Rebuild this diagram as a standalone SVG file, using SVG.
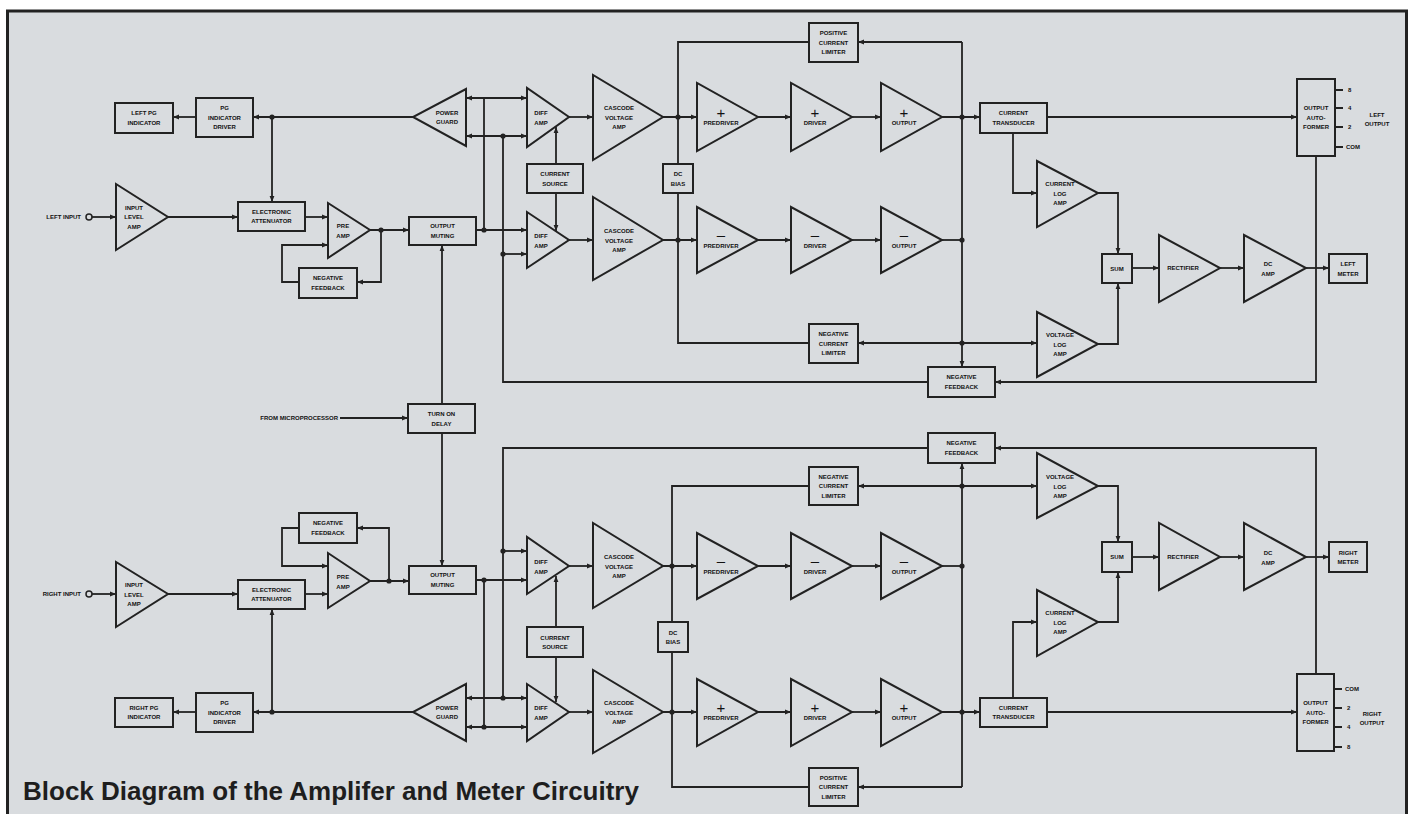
<svg xmlns="http://www.w3.org/2000/svg" width="1412" height="814" viewBox="0 0 1412 814">
<defs>
<style>
.ln{fill:none;stroke:#222;stroke-width:1.8}
.bx{fill:#d9dcdf;stroke:#222;stroke-width:2}
.t{font-family:"Liberation Sans",Arial,sans-serif;font-size:6px;font-weight:bold;fill:#111;text-anchor:middle}
.s{font-family:"Liberation Sans",Arial,sans-serif;font-size:15px;fill:#111;text-anchor:middle}
.d{fill:#222}
.title{font-family:"Liberation Sans",Arial,sans-serif;font-size:26px;font-weight:bold;fill:#1e1e1e}
</style>
<marker id="ar" viewBox="0 0 10 10" refX="10" refY="5" markerWidth="6" markerHeight="6" markerUnits="userSpaceOnUse" orient="auto-start-reverse"><path d="M0,1 L10,5 L0,9 z" fill="#222"/></marker>
</defs>
<rect x="0" y="0" width="1412" height="814" fill="#ffffff"/>
<rect x="7.5" y="11" width="1399" height="812" fill="#d9dcdf" stroke="#222" stroke-width="3"/>

<g id="connectors">
<!-- LEFT channel -->
<circle cx="89" cy="217" r="3" fill="none" stroke="#222" stroke-width="1.5"/>
<path class="ln" d="M92,217 H116" marker-end="url(#ar)"/>
<path class="ln" d="M168,217 H238" marker-end="url(#ar)"/>
<path class="ln" d="M305,217 H328" marker-end="url(#ar)"/>
<path class="ln" d="M370,230 H409" marker-end="url(#ar)"/>
<path class="ln" d="M381,230 V282 H357" marker-end="url(#ar)"/>
<path class="ln" d="M299,282 H282 V245 H328" marker-end="url(#ar)"/>
<path class="ln" d="M413,117 H253" marker-end="url(#ar)"/>
<path class="ln" d="M196,117 H173" marker-end="url(#ar)"/>
<path class="ln" d="M272,117 V202" marker-end="url(#ar)"/>
<path class="ln" d="M466,98 H527" marker-start="url(#ar)" marker-end="url(#ar)"/>
<path class="ln" d="M466,136 H527" marker-start="url(#ar)" marker-end="url(#ar)"/>
<path class="ln" d="M476,230 H527" marker-end="url(#ar)"/>
<path class="ln" d="M484,230 V98"/>
<path class="ln" d="M928,382 H503 V136"/>
<path class="ln" d="M503,254 H527" marker-end="url(#ar)"/>
<path class="ln" d="M556,164 V127" marker-end="url(#ar)"/>
<path class="ln" d="M556,193 V231" marker-end="url(#ar)"/>
<path class="ln" d="M569,117 H593" marker-end="url(#ar)"/>
<path class="ln" d="M569,240 H593" marker-end="url(#ar)"/>
<path class="ln" d="M663,117 H697" marker-end="url(#ar)"/>
<path class="ln" d="M663,240 H697" marker-end="url(#ar)"/>
<path class="ln" d="M809,42 H678 V343 H809"/>
<path class="ln" d="M758,117 H791" marker-end="url(#ar)"/>
<path class="ln" d="M852,117 H881" marker-end="url(#ar)"/>
<path class="ln" d="M758,240 H791" marker-end="url(#ar)"/>
<path class="ln" d="M852,240 H881" marker-end="url(#ar)"/>
<path class="ln" d="M942,117 H980" marker-end="url(#ar)"/>
<path class="ln" d="M942,240 H962"/>
<path class="ln" d="M962,42 V367" marker-end="url(#ar)"/>
<path class="ln" d="M962,42 H858" marker-end="url(#ar)"/>
<path class="ln" d="M962,343 H858" marker-end="url(#ar)"/>
<path class="ln" d="M962,343 H1037" marker-end="url(#ar)"/>
<path class="ln" d="M1047,117 H1297" marker-end="url(#ar)"/>
<path class="ln" d="M1013,133 V193 H1037" marker-end="url(#ar)"/>
<path class="ln" d="M1098,193 H1118 V254" marker-end="url(#ar)"/>
<path class="ln" d="M1098,344 H1118 V283" marker-end="url(#ar)"/>
<path class="ln" d="M1132,268 H1159" marker-end="url(#ar)"/>
<path class="ln" d="M1220,268 H1244" marker-end="url(#ar)"/>
<path class="ln" d="M1306,268 H1329" marker-end="url(#ar)"/>
<path class="ln" d="M1316,156 V382 H995" marker-end="url(#ar)"/>
<path class="ln" d="M1335,90 H1343 M1335,108 H1343 M1335,127 H1343 M1335,147 H1343"/>
<!-- turn on delay -->
<path class="ln" d="M340,418 H408" marker-end="url(#ar)"/>
<path class="ln" d="M442,404 V245" marker-end="url(#ar)"/>
<path class="ln" d="M442,433 V566" marker-end="url(#ar)"/>
<!-- RIGHT channel -->
<circle cx="89" cy="594" r="3" fill="none" stroke="#222" stroke-width="1.5"/>
<path class="ln" d="M92,594 H116" marker-end="url(#ar)"/>
<path class="ln" d="M168,594 H238" marker-end="url(#ar)"/>
<path class="ln" d="M305,594 H328" marker-end="url(#ar)"/>
<path class="ln" d="M370,581 H409" marker-end="url(#ar)"/>
<path class="ln" d="M389,581 V528 H357" marker-end="url(#ar)"/>
<path class="ln" d="M299,528 H282 V566 H328" marker-end="url(#ar)"/>
<path class="ln" d="M413,712 H253" marker-end="url(#ar)"/>
<path class="ln" d="M196,712 H173" marker-end="url(#ar)"/>
<path class="ln" d="M272,712 V609" marker-end="url(#ar)"/>
<path class="ln" d="M466,698 H527" marker-start="url(#ar)" marker-end="url(#ar)"/>
<path class="ln" d="M466,727 H527" marker-start="url(#ar)" marker-end="url(#ar)"/>
<path class="ln" d="M476,580 H527" marker-end="url(#ar)"/>
<path class="ln" d="M484,580 V727"/>
<path class="ln" d="M928,448 H503 V698"/>
<path class="ln" d="M503,551 H527" marker-end="url(#ar)"/>
<path class="ln" d="M556,627 V576" marker-end="url(#ar)"/>
<path class="ln" d="M556,657 V702" marker-end="url(#ar)"/>
<path class="ln" d="M569,566 H593" marker-end="url(#ar)"/>
<path class="ln" d="M569,712 H593" marker-end="url(#ar)"/>
<path class="ln" d="M663,566 H697" marker-end="url(#ar)"/>
<path class="ln" d="M663,712 H697" marker-end="url(#ar)"/>
<path class="ln" d="M809,486 H672 V787 H809"/>
<path class="ln" d="M758,566 H791" marker-end="url(#ar)"/>
<path class="ln" d="M852,566 H881" marker-end="url(#ar)"/>
<path class="ln" d="M758,712 H791" marker-end="url(#ar)"/>
<path class="ln" d="M852,712 H881" marker-end="url(#ar)"/>
<path class="ln" d="M942,566 H962"/>
<path class="ln" d="M942,712 H980" marker-end="url(#ar)"/>
<path class="ln" d="M962,787 V463" marker-end="url(#ar)"/>
<path class="ln" d="M962,787 H858" marker-end="url(#ar)"/>
<path class="ln" d="M962,486 H858" marker-end="url(#ar)"/>
<path class="ln" d="M962,486 H1037" marker-end="url(#ar)"/>
<path class="ln" d="M1047,712 H1297" marker-end="url(#ar)"/>
<path class="ln" d="M1013,698 V622 H1037" marker-end="url(#ar)"/>
<path class="ln" d="M1098,622 H1118 V572" marker-end="url(#ar)"/>
<path class="ln" d="M1098,486 H1118 V542" marker-end="url(#ar)"/>
<path class="ln" d="M1132,557 H1159" marker-end="url(#ar)"/>
<path class="ln" d="M1220,557 H1244" marker-end="url(#ar)"/>
<path class="ln" d="M1306,557 H1329" marker-end="url(#ar)"/>
<path class="ln" d="M1316,674 V448 H995" marker-end="url(#ar)"/>
<path class="ln" d="M1334,689 H1342 M1334,708 H1342 M1334,727 H1342 M1334,747 H1342"/>
<!-- junction dots -->
<circle class="d" cx="272" cy="117" r="2.6"/>
<circle class="d" cx="381" cy="230" r="2.6"/>
<circle class="d" cx="484" cy="230" r="2.6"/>
<circle class="d" cx="503" cy="136" r="2.6"/>
<circle class="d" cx="503" cy="254" r="2.6"/>
<circle class="d" cx="678" cy="117" r="2.6"/>
<circle class="d" cx="678" cy="240" r="2.6"/>
<circle class="d" cx="962" cy="117" r="2.6"/>
<circle class="d" cx="962" cy="240" r="2.6"/>
<circle class="d" cx="962" cy="343" r="2.6"/>
<circle class="d" cx="272" cy="712" r="2.6"/>
<circle class="d" cx="389" cy="581" r="2.6"/>
<circle class="d" cx="484" cy="580" r="2.6"/>
<circle class="d" cx="484" cy="727" r="2.6"/>
<circle class="d" cx="503" cy="551" r="2.6"/>
<circle class="d" cx="503" cy="698" r="2.6"/>
<circle class="d" cx="672" cy="566" r="2.6"/>
<circle class="d" cx="672" cy="712" r="2.6"/>
<circle class="d" cx="962" cy="566" r="2.6"/>
<circle class="d" cx="962" cy="712" r="2.6"/>
<circle class="d" cx="962" cy="486" r="2.6"/>
</g>

<!-- LEFT CHANNEL NODES -->
<g id="left-input-label"><text class="t" x="81" y="219" style="text-anchor:end">LEFT INPUT</text></g>
<g id="left-pg-indicator"><rect class="bx" x="115" y="103" width="58" height="30"/><text class="t" x="144" y="115">LEFT PG</text><text class="t" x="144" y="124.5">INDICATOR</text></g>
<g id="left-pg-driver"><rect class="bx" x="196" y="98" width="57" height="39"/><text class="t" x="224.5" y="110">PG</text><text class="t" x="224.5" y="119.5">INDICATOR</text><text class="t" x="224.5" y="129">DRIVER</text></g>
<g id="left-power-guard"><polygon class="bx" points="466,89 466,146 413,117"/><text class="t" x="447" y="114.5">POWER</text><text class="t" x="447" y="124">GUARD</text></g>
<g id="left-input-amp"><polygon class="bx" points="116,184 116,250 168,217"/><text class="t" x="134" y="209.5">INPUT</text><text class="t" x="134" y="219">LEVEL</text><text class="t" x="134" y="228.5">AMP</text></g>
<g id="left-attenuator"><rect class="bx" x="238" y="202" width="67" height="29"/><text class="t" x="271.5" y="213.5">ELECTRONIC</text><text class="t" x="271.5" y="223">ATTENUATOR</text></g>
<g id="left-preamp"><polygon class="bx" points="328,203 328,258 370,230"/><text class="t" x="343" y="228">PRE</text><text class="t" x="343" y="237.5">AMP</text></g>
<g id="left-pre-feedback"><rect class="bx" x="299" y="268" width="58" height="30"/><text class="t" x="328" y="280">NEGATIVE</text><text class="t" x="328" y="289.5">FEEDBACK</text></g>
<g id="left-muting"><rect class="bx" x="409" y="217" width="67" height="28"/><text class="t" x="442.5" y="228">OUTPUT</text><text class="t" x="442.5" y="237.5">MUTING</text></g>
<g id="left-diff-1"><polygon class="bx" points="527,88 527,147 569,117"/><text class="t" x="541" y="115">DIFF</text><text class="t" x="541" y="124.5">AMP</text></g>
<g id="left-diff-2"><polygon class="bx" points="527,212 527,268 569,240"/><text class="t" x="541" y="238">DIFF</text><text class="t" x="541" y="247.5">AMP</text></g>
<g id="left-cascode-1"><polygon class="bx" points="593,75 593,160 663,117"/><text class="t" x="619" y="110">CASCODE</text><text class="t" x="619" y="119.5">VOLTAGE</text><text class="t" x="619" y="129">AMP</text></g>
<g id="left-cascode-2"><polygon class="bx" points="593,197 593,280 663,240"/><text class="t" x="619" y="233">CASCODE</text><text class="t" x="619" y="242.5">VOLTAGE</text><text class="t" x="619" y="252">AMP</text></g>
<g id="left-current-source"><rect class="bx" x="527" y="164" width="56" height="29"/><text class="t" x="555" y="176">CURRENT</text><text class="t" x="555" y="185.5">SOURCE</text></g>
<g id="left-dc-bias"><rect class="bx" x="663" y="164" width="30" height="29"/><text class="t" x="678" y="176">DC</text><text class="t" x="678" y="185.5">BIAS</text></g>
<g id="left-predriver-pos"><polygon class="bx" points="697,83 697,151 758,117"/><text class="s" x="721" y="117.5">+</text><text class="t" x="721" y="124.5">PREDRIVER</text></g>
<g id="left-driver-pos"><polygon class="bx" points="791,83 791,151 852,117"/><text class="s" x="815" y="117.5">+</text><text class="t" x="815" y="124.5">DRIVER</text></g>
<g id="left-output-pos"><polygon class="bx" points="881,83 881,151 942,117"/><text class="s" x="904" y="117.5">+</text><text class="t" x="904" y="124.5">OUTPUT</text></g>
<g id="left-predriver-neg"><polygon class="bx" points="697,207 697,273 758,240"/><text class="s" x="721" y="240">–</text><text class="t" x="721" y="247.5">PREDRIVER</text></g>
<g id="left-driver-neg"><polygon class="bx" points="791,207 791,273 852,240"/><text class="s" x="815" y="240">–</text><text class="t" x="815" y="247.5">DRIVER</text></g>
<g id="left-output-neg"><polygon class="bx" points="881,207 881,273 942,240"/><text class="s" x="904" y="240">–</text><text class="t" x="904" y="247.5">OUTPUT</text></g>
<g id="left-pos-limiter"><rect class="bx" x="809" y="23" width="49" height="39"/><text class="t" x="833.5" y="35">POSITIVE</text><text class="t" x="833.5" y="44.5">CURRENT</text><text class="t" x="833.5" y="54">LIMITER</text></g>
<g id="left-neg-limiter"><rect class="bx" x="809" y="324" width="49" height="39"/><text class="t" x="833.5" y="336">NEGATIVE</text><text class="t" x="833.5" y="345.5">CURRENT</text><text class="t" x="833.5" y="355">LIMITER</text></g>
<g id="left-feedback"><rect class="bx" x="928" y="367" width="67" height="30"/><text class="t" x="961.5" y="379">NEGATIVE</text><text class="t" x="961.5" y="388.5">FEEDBACK</text></g>
<g id="left-transducer"><rect class="bx" x="980" y="103" width="67" height="30"/><text class="t" x="1013.5" y="115">CURRENT</text><text class="t" x="1013.5" y="124.5">TRANSDUCER</text></g>
<g id="left-current-log"><polygon class="bx" points="1037,161 1037,227 1098,193"/><text class="t" x="1060" y="186">CURRENT</text><text class="t" x="1060" y="195.5">LOG</text><text class="t" x="1060" y="205">AMP</text></g>
<g id="left-voltage-log"><polygon class="bx" points="1037,312 1037,377 1098,344"/><text class="t" x="1060" y="337">VOLTAGE</text><text class="t" x="1060" y="346.5">LOG</text><text class="t" x="1060" y="356">AMP</text></g>
<g id="left-sum"><rect class="bx" x="1102" y="254" width="30" height="29"/><text class="t" x="1117" y="270.5">SUM</text></g>
<g id="left-rectifier"><polygon class="bx" points="1159,235 1159,302 1220,268"/><text class="t" x="1183" y="270">RECTIFIER</text></g>
<g id="left-dc-amp"><polygon class="bx" points="1244,235 1244,302 1306,268"/><text class="t" x="1268" y="266">DC</text><text class="t" x="1268" y="275.5">AMP</text></g>
<g id="left-meter"><rect class="bx" x="1329" y="254" width="38" height="29"/><text class="t" x="1348" y="266">LEFT</text><text class="t" x="1348" y="275.5">METER</text></g>
<g id="left-autoformer"><rect class="bx" x="1297" y="79" width="38" height="77"/><text class="t" x="1316" y="110">OUTPUT</text><text class="t" x="1316" y="119.5">AUTO-</text><text class="t" x="1316" y="129">FORMER</text>
<text class="t" x="1348" y="92" style="text-anchor:start">8</text><text class="t" x="1348" y="110" style="text-anchor:start">4</text><text class="t" x="1348" y="129" style="text-anchor:start">2</text><text class="t" x="1346" y="149" style="text-anchor:start">COM</text>
<text class="t" x="1377" y="117">LEFT</text><text class="t" x="1377" y="126">OUTPUT</text></g>

<!-- SHARED -->
<g id="from-micro"><text class="t" x="338" y="420" style="text-anchor:end">FROM MICROPROCESSOR</text></g>
<g id="turn-on-delay"><rect class="bx" x="408" y="404" width="67" height="29"/><text class="t" x="441.5" y="416">TURN ON</text><text class="t" x="441.5" y="425.5">DELAY</text></g>

<!-- RIGHT CHANNEL NODES -->
<g id="right-input-label"><text class="t" x="81" y="596" style="text-anchor:end">RIGHT INPUT</text></g>
<g id="right-pg-indicator"><rect class="bx" x="115" y="698" width="58" height="29"/><text class="t" x="144" y="709.5">RIGHT PG</text><text class="t" x="144" y="719">INDICATOR</text></g>
<g id="right-pg-driver"><rect class="bx" x="196" y="693" width="57" height="39"/><text class="t" x="224.5" y="705">PG</text><text class="t" x="224.5" y="714.5">INDICATOR</text><text class="t" x="224.5" y="724">DRIVER</text></g>
<g id="right-power-guard"><polygon class="bx" points="466,684 466,741 413,712"/><text class="t" x="447" y="709.5">POWER</text><text class="t" x="447" y="719">GUARD</text></g>
<g id="right-input-amp"><polygon class="bx" points="116,562 116,627 168,594"/><text class="t" x="134" y="587">INPUT</text><text class="t" x="134" y="596.5">LEVEL</text><text class="t" x="134" y="606">AMP</text></g>
<g id="right-attenuator"><rect class="bx" x="238" y="580" width="67" height="29"/><text class="t" x="271.5" y="591.5">ELECTRONIC</text><text class="t" x="271.5" y="601">ATTENUATOR</text></g>
<g id="right-preamp"><polygon class="bx" points="328,553 328,608 370,581"/><text class="t" x="343" y="579">PRE</text><text class="t" x="343" y="588.5">AMP</text></g>
<g id="right-pre-feedback"><rect class="bx" x="299" y="513" width="58" height="30"/><text class="t" x="328" y="525">NEGATIVE</text><text class="t" x="328" y="534.5">FEEDBACK</text></g>
<g id="right-muting"><rect class="bx" x="409" y="566" width="67" height="28"/><text class="t" x="442.5" y="577">OUTPUT</text><text class="t" x="442.5" y="586.5">MUTING</text></g>
<g id="right-diff-1"><polygon class="bx" points="527,537 527,594 569,566"/><text class="t" x="541" y="564">DIFF</text><text class="t" x="541" y="573.5">AMP</text></g>
<g id="right-diff-2"><polygon class="bx" points="527,684 527,741 569,712"/><text class="t" x="541" y="710">DIFF</text><text class="t" x="541" y="719.5">AMP</text></g>
<g id="right-cascode-1"><polygon class="bx" points="593,523 593,608 663,566"/><text class="t" x="619" y="559">CASCODE</text><text class="t" x="619" y="568.5">VOLTAGE</text><text class="t" x="619" y="578">AMP</text></g>
<g id="right-cascode-2"><polygon class="bx" points="593,670 593,753 663,712"/><text class="t" x="619" y="705">CASCODE</text><text class="t" x="619" y="714.5">VOLTAGE</text><text class="t" x="619" y="724">AMP</text></g>
<g id="right-current-source"><rect class="bx" x="527" y="627" width="56" height="30"/><text class="t" x="555" y="639.5">CURRENT</text><text class="t" x="555" y="649">SOURCE</text></g>
<g id="right-dc-bias"><rect class="bx" x="658" y="622" width="30" height="30"/><text class="t" x="673" y="634.5">DC</text><text class="t" x="673" y="644">BIAS</text></g>
<g id="right-predriver-neg"><polygon class="bx" points="697,533 697,599 758,566"/><text class="s" x="721" y="566">–</text><text class="t" x="721" y="574">PREDRIVER</text></g>
<g id="right-driver-neg"><polygon class="bx" points="791,533 791,599 852,566"/><text class="s" x="815" y="566">–</text><text class="t" x="815" y="574">DRIVER</text></g>
<g id="right-output-neg"><polygon class="bx" points="881,533 881,599 942,566"/><text class="s" x="904" y="566">–</text><text class="t" x="904" y="574">OUTPUT</text></g>
<g id="right-predriver-pos"><polygon class="bx" points="697,679 697,746 758,712"/><text class="s" x="721" y="712.5">+</text><text class="t" x="721" y="720">PREDRIVER</text></g>
<g id="right-driver-pos"><polygon class="bx" points="791,679 791,746 852,712"/><text class="s" x="815" y="712.5">+</text><text class="t" x="815" y="720">DRIVER</text></g>
<g id="right-output-pos"><polygon class="bx" points="881,679 881,746 942,712"/><text class="s" x="904" y="712.5">+</text><text class="t" x="904" y="720">OUTPUT</text></g>
<g id="right-neg-limiter"><rect class="bx" x="809" y="467" width="49" height="38"/><text class="t" x="833.5" y="478.5">NEGATIVE</text><text class="t" x="833.5" y="488">CURRENT</text><text class="t" x="833.5" y="497.5">LIMITER</text></g>
<g id="right-pos-limiter"><rect class="bx" x="809" y="768" width="49" height="38"/><text class="t" x="833.5" y="779.5">POSITIVE</text><text class="t" x="833.5" y="789">CURRENT</text><text class="t" x="833.5" y="798.5">LIMITER</text></g>
<g id="right-feedback"><rect class="bx" x="928" y="433" width="67" height="30"/><text class="t" x="961.5" y="445">NEGATIVE</text><text class="t" x="961.5" y="454.5">FEEDBACK</text></g>
<g id="right-transducer"><rect class="bx" x="980" y="698" width="67" height="29"/><text class="t" x="1013.5" y="709.5">CURRENT</text><text class="t" x="1013.5" y="719">TRANSDUCER</text></g>
<g id="right-current-log"><polygon class="bx" points="1037,590 1037,656 1098,622"/><text class="t" x="1060" y="615">CURRENT</text><text class="t" x="1060" y="624.5">LOG</text><text class="t" x="1060" y="634">AMP</text></g>
<g id="right-voltage-log"><polygon class="bx" points="1037,453 1037,518 1098,486"/><text class="t" x="1060" y="479">VOLTAGE</text><text class="t" x="1060" y="488.5">LOG</text><text class="t" x="1060" y="498">AMP</text></g>
<g id="right-sum"><rect class="bx" x="1102" y="542" width="30" height="30"/><text class="t" x="1117" y="559">SUM</text></g>
<g id="right-rectifier"><polygon class="bx" points="1159,523 1159,590 1220,557"/><text class="t" x="1183" y="559">RECTIFIER</text></g>
<g id="right-dc-amp"><polygon class="bx" points="1244,523 1244,590 1306,557"/><text class="t" x="1268" y="555">DC</text><text class="t" x="1268" y="564.5">AMP</text></g>
<g id="right-meter"><rect class="bx" x="1329" y="542" width="38" height="30"/><text class="t" x="1348" y="554.5">RIGHT</text><text class="t" x="1348" y="564">METER</text></g>
<g id="right-autoformer"><rect class="bx" x="1297" y="674" width="37" height="77"/><text class="t" x="1315.5" y="705">OUTPUT</text><text class="t" x="1315.5" y="714.5">AUTO-</text><text class="t" x="1315.5" y="724">FORMER</text>
<text class="t" x="1345" y="691" style="text-anchor:start">COM</text><text class="t" x="1347" y="710" style="text-anchor:start">2</text><text class="t" x="1347" y="729" style="text-anchor:start">4</text><text class="t" x="1347" y="749" style="text-anchor:start">8</text>
<text class="t" x="1372" y="716">RIGHT</text><text class="t" x="1372" y="725">OUTPUT</text></g>

<g id="title"><text class="title" x="23" y="800">Block Diagram of the Amplifer and Meter Circuitry</text></g>
</svg>
